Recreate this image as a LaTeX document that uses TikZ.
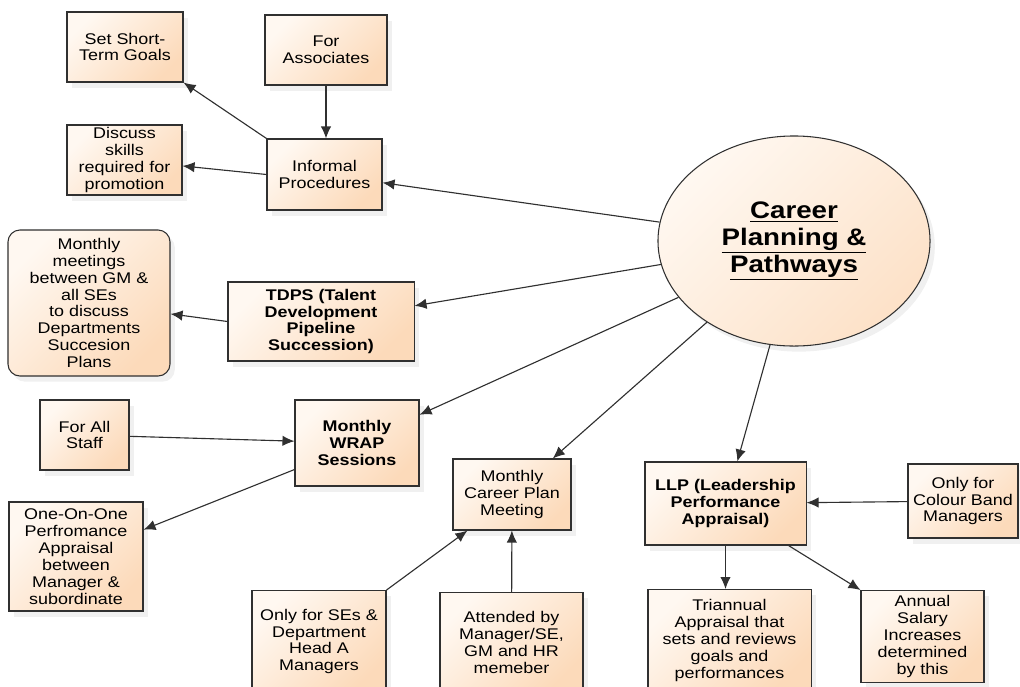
\documentclass[tikz,border=0pt]{standalone}
\usepackage{fontspec}
\setmainfont{Liberation Sans}[FakeStretch=1.16]
\usetikzlibrary{arrows, positioning, shapes.geometric, arrows.meta, shadows}
\definecolor{boxlight}{HTML}{FFF8F1}
\definecolor{boxdark}{HTML}{FCDABA}
\definecolor{edgegrey}{HTML}{303030}

\begin{document}
\begin{tikzpicture}[x=0.025cm, y=-0.025cm, >={Latex[length=3mm, width=2.6mm]},
    box/.style={rectangle, draw=edgegrey, line width=0.75pt, top color=boxlight, bottom color=boxdark, shading angle=45,
        align=center, inner sep=1pt, font=\fontsize{11}{12}\selectfont,
        drop shadow={opacity=0.12, shadow xshift=1.2mm, shadow yshift=-1.4mm}},
    boldbox/.style={box, font=\fontsize{11}{12}\selectfont\bfseries},
    link/.style={->, draw=edgegrey, line width=0.8pt}]
    \useasboundingbox (0,0) rectangle (1020,686);

    \node [box, minimum width=2.9cm, minimum height=1.75cm] (goals) at (125,47) {Set Short-\\Term Goals};
    \node [box, minimum width=3.05cm, minimum height=1.75cm] (associates) at (326,50) {For\\Associates};
    \node [box, minimum width=2.875cm, minimum height=1.75cm] (skills) at (124.5,160) {Discuss\\skills\\required for\\promotion};
    \node [box, minimum width=2.875cm, minimum height=1.775cm] (informal) at (324.5,174.5) {Informal\\Procedures};

    \node [ellipse, draw=edgegrey, line width=0.75pt, top color=boxlight, bottom color=boxdark!80, shading angle=45,
        drop shadow={opacity=0.12, shadow xshift=1.2mm, shadow yshift=-1.4mm},
        minimum width=6.8cm, minimum height=5.25cm, align=center, font=\fontsize{17}{19}\selectfont\bfseries]
        (career) at (794,241) {\underline{Career}\\\underline{Planning \&}\\\underline{Pathways}};

    \node [box, rounded corners=3mm, minimum width=4.05cm, minimum height=3.65cm] (meetings) at (89,303)
        {Monthly\\meetings\\between GM \&\\all SEs\\to discuss\\Departments\\Succesion\\Plans};
    \node [boldbox, minimum width=4.65cm, minimum height=1.975cm] (tdps) at (321,321.5) {TDPS (Talent\\Development\\Pipeline\\Succession)};

    \node [box, minimum width=2.225cm, minimum height=1.75cm] (staff) at (84.5,435) {For All\\Staff};
    \node [boldbox, minimum width=3.1cm, minimum height=2.15cm] (wrap) at (357,443) {Monthly\\WRAP\\Sessions};
    \node [box, minimum width=3.35cm, minimum height=2.725cm] (oneonone) at (76,556.5) {One-On-One\\Perfromance\\Appraisal\\between\\Manager \&\\subordinate};
    \node [box, minimum width=2.95cm, minimum height=1.775cm] (planmeeting) at (512,494.5) {Monthly\\Career Plan\\Meeting};
    \node [box, anchor=north, minimum width=3.35cm, minimum height=2.55cm] (ses) at (319,590) {Only for SEs \&\\Department\\Head A\\Managers};
    \node [box, anchor=north, minimum width=3.575cm, minimum height=2.5cm] (attended) at (511.5,592) {Attended by\\Manager/SE,\\GM and HR\\memeber};

    \node [boldbox, minimum width=4.025cm, minimum height=2.075cm] (llp) at (725.5,503.5) {LLP (Leadership\\Performance\\Appraisal)};
    \node [box, minimum width=2.75cm, minimum height=1.85cm] (colourband) at (963,501) {Only for\\Colour Band\\Managers};
    \node [box, anchor=north, minimum width=4.075cm, minimum height=2.55cm] (triannual) at (729.5,589) {Triannual\\Appraisal that\\sets and reviews\\goals and\\performances};
    \node [box, anchor=north, minimum width=3.075cm, minimum height=2.3cm] (salary) at (922.5,590) {Annual\\Salary\\Increases\\determined\\by this};

    \draw [link] (associates) -- (associates |- informal.north);
    \draw [link] (informal.north west) -- (goals.south east);
    \draw [link] (informal.west) -- (skills);
    \draw [link] (career.172) -- (informal);
    \draw [link] (career.190) -- (tdps);
    \draw [link] (tdps.west) -- (meetings);
    \draw [link] (career.206) -- (wrap);
    \draw [link] (staff) -- (wrap);
    \draw [link] (wrap.203) -- (oneonone);
    \draw [link] (career.223) -- (planmeeting);
    \draw [link] (ses.north east) -- ([xshift=0.375cm]planmeeting.south west);
    \draw [link] (attended) -- (planmeeting);
    \draw [link] (career.257) -- (llp);
    \draw [link] (colourband) -- (llp);
    \draw [link] (llp.south) -- (llp.south |- triannual.north);
    \draw [link] ([xshift=-0.45cm]llp.south east) -- (salary.north west);
\end{tikzpicture}
\end{document}
